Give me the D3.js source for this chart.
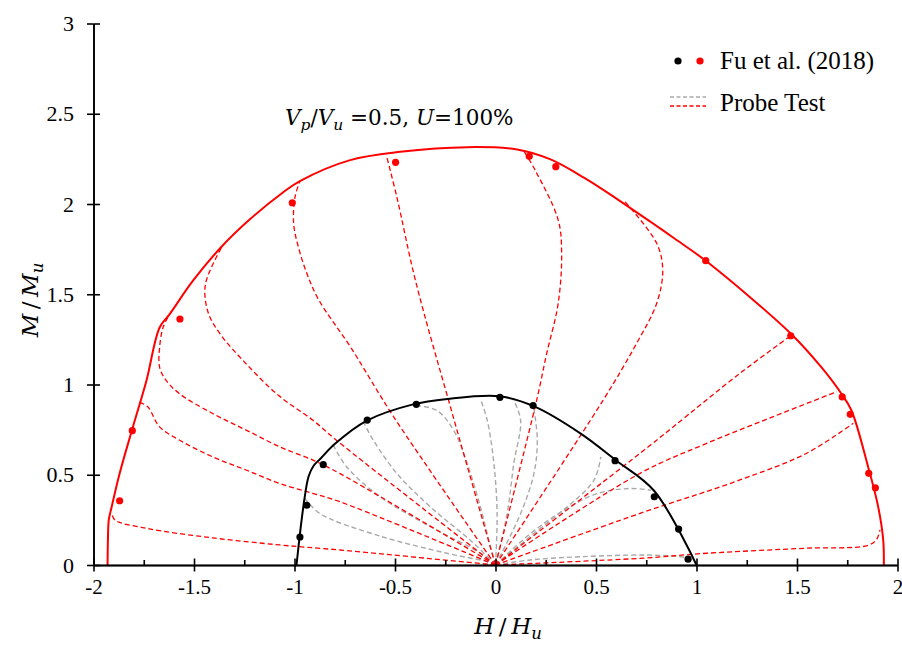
<!DOCTYPE html>
<html>
<head>
<meta charset="utf-8">
<script src="https://cdn.jsdelivr.net/npm/d3@7"></script>
<style>
  body { margin: 0; background: #fff; }
  svg { display: block; }
</style>
</head>
<body>
<svg id="chart" width="902" height="645"></svg>
<script>
// ---- axis ticks ----
const xTicks = [-2, -1.5, -1, -0.5, 0, 0.5, 1, 1.5, 2];
const xMinorTicks = [-1.75, -1.25, -0.75, -0.25, 0.25, 0.75, 1.25, 1.75];
const yTicks = [0, 0.5, 1, 1.5, 2, 2.5, 3];

// ---- failure envelopes (H/Hu, M/Mu) ----
const redEnvH = [-1.93, -1.928, -1.924, -1.91, -1.87, -1.804, -1.737, -1.671, -1.621, -1.505, -1.37, -1.222, -1.056, -0.973, -0.723, -0.474, -0.141, 0.108, 0.274, 0.44, 0.607, 0.773, 0.889, 1.051, 1.471, 1.621, 1.721, 1.771, 1.854, 1.904, 1.929, 1.932];
const redEnvM = [0, 0.15, 0.25, 0.32, 0.507, 0.765, 1.02, 1.316, 1.39, 1.575, 1.755, 1.915, 2.065, 2.127, 2.243, 2.289, 2.315, 2.302, 2.247, 2.146, 2.026, 1.90, 1.81, 1.681, 1.28, 1.096, 0.949, 0.856, 0.543, 0.322, 0.138, 0];

const blackEnvH = [-0.99, -0.97, -0.95, -0.93, -0.905, -0.87, -0.80, -0.64, -0.41, -0.24, 0.02, 0.19, 0.424, 0.599, 0.79, 1.0];
const blackEnvM = [0, 0.2, 0.37, 0.49, 0.55, 0.59, 0.67, 0.80, 0.89, 0.92, 0.935, 0.88, 0.728, 0.58, 0.41, 0];

// ---- Fu et al. (2018) test points ----
const fuRedH = [-1.870, -1.807, -1.570, -1.011, -0.497, 0.168, 0.300, 1.046, 1.469, 1.725, 1.765, 1.857, 1.890];
const fuRedM = [0.356, 0.744, 1.363, 2.007, 2.231, 2.264, 2.207, 1.686, 1.270, 0.931, 0.835, 0.508, 0.428];
const fuBlackH = [-0.973, -0.939, -0.857, -0.638, -0.394, 0.022, 0.187, 0.595, 0.790, 0.911, 0.958];
const fuBlackM = [0.155, 0.331, 0.556, 0.803, 0.890, 0.929, 0.883, 0.578, 0.378, 0.199, 0.032];

// ---- probe test paths, each from the origin outward: [H/Hu, M/Mu] ----
const redProbes = [
  [[0, 0], [-0.774, 0.083], [-1.072, 0.111], [-1.405, 0.15], [-1.735, 0.203], [-1.893, 0.249], [-1.909, 0.286]],
  [[0, 0], [-0.773, 0.35], [-0.906, 0.396], [-1.072, 0.451], [-1.238, 0.525], [-1.405, 0.598], [-1.571, 0.691], [-1.671, 0.765], [-1.729, 0.875], [-1.771, 0.902]],
  [[0, 0], [-0.773, 0.506], [-0.906, 0.58], [-1.072, 0.654], [-1.238, 0.746], [-1.405, 0.838], [-1.571, 0.948], [-1.638, 1.022], [-1.671, 1.095], [-1.671, 1.206], [-1.654, 1.316], [-1.621, 1.39]],
  [[0, 0], [-0.79, 0.69], [-0.906, 0.80], [-1.08, 0.94], [-1.245, 1.12], [-1.37, 1.28], [-1.43, 1.40], [-1.443, 1.556], [-1.36, 1.765]],
  [[0, 0], [-0.506, 0.82], [-0.721, 1.207], [-0.88, 1.47], [-0.94, 1.62], [-0.98, 1.759], [-1.004, 1.888], [-0.998, 2.035], [-0.973, 2.127]],
  [[0, 0], [-0.21, 0.82], [-0.398, 1.575], [-0.49, 2.035], [-0.541, 2.262]],
  [[0, 0], [0.205, 0.914], [0.255, 1.173], [0.312, 1.45], [0.329, 1.727], [0.312, 1.911], [0.197, 2.188], [0.138, 2.299]],
  [[0, 0], [0.536, 0.914], [0.702, 1.228], [0.802, 1.45], [0.832, 1.634], [0.802, 1.782], [0.644, 2.013]],
  [[0, 0], [0.719, 0.619], [0.885, 0.766], [1.216, 1.062], [1.469, 1.27]],
  [[0, 0], [0.719, 0.508], [1.051, 0.674], [1.382, 0.822], [1.698, 0.96]],
  [[0, 0], [0.719, 0.286], [1.216, 0.471], [1.548, 0.619], [1.78, 0.785]],
  [[0, 0], [0.719, 0.037], [1.051, 0.065], [1.548, 0.093], [1.85, 0.108], [1.895, 0.14], [1.913, 0.194]]
];

const greyProbes = [
  [[0, 0], [-0.041, 0.018], [-0.241, 0.065], [-0.574, 0.16], [-0.873, 0.285], [-0.948, 0.368]],
  [[0, 0], [-0.075, 0.065], [-0.324, 0.212], [-0.574, 0.378], [-0.74, 0.543], [-0.806, 0.663]],
  [[0, 0], [-0.108, 0.12], [-0.324, 0.322], [-0.49, 0.506], [-0.607, 0.69], [-0.657, 0.792]],
  [[0, 0], [-0.025, 0.1], [-0.075, 0.322], [-0.141, 0.562], [-0.208, 0.746], [-0.291, 0.856], [-0.391, 0.884]],
  [[0, 0], [0.008, 0.285], [-0.008, 0.562], [-0.041, 0.801], [-0.075, 0.921]],
  [[0, 0], [0.058, 0.285], [0.091, 0.562], [0.125, 0.801], [0.091, 0.912]],
  [[0, 0], [0.125, 0.285], [0.191, 0.506], [0.208, 0.69], [0.19, 0.876]],
  [[0, 0], [0.091, 0.083], [0.191, 0.175], [0.357, 0.322], [0.49, 0.47], [0.524, 0.599]],
  [[0, 0], [0.175, 0.175], [0.341, 0.304], [0.507, 0.396], [0.673, 0.424], [0.773, 0.414]],
  [[0, 0], [0.175, 0.028], [0.424, 0.046], [0.756, 0.055], [0.922, 0.046], [0.964, 0.037]]
];

// ---- layout ----
const svg = d3.select("#chart");
const x = d3.scaleLinear().domain([-2, 2]).range([93.5, 897.5]);
const y = d3.scaleLinear().domain([0, 3]).range([565, 23.5]);

const serif = "'Liberation Serif', 'Times New Roman', serif";
const mathFont = "'DejaVu Serif', serif";
const RED = "#ff0000";

const line = d3.line()
  .x(d => x(d[0]))
  .y(d => y(d[1]))
  .curve(d3.curveCatmullRom.alpha(0.5));

// probe paths
const probeG = svg.append("g").attr("fill", "none");
probeG.selectAll("path.grey")
  .data(greyProbes).join("path")
  .attr("class", "grey")
  .attr("d", line)
  .attr("stroke", "#a9a9a9")
  .attr("stroke-width", 1.4)
  .attr("stroke-dasharray", "5,3");
probeG.selectAll("path.red")
  .data(redProbes).join("path")
  .attr("class", "red")
  .attr("d", line)
  .attr("stroke", RED)
  .attr("stroke-width", 1.3)
  .attr("stroke-dasharray", "5,3");

// envelopes
const zip = (a, b) => a.map((v, i) => [v, b[i]]);
svg.append("path")
  .datum(zip(blackEnvH, blackEnvM))
  .attr("d", line)
  .attr("fill", "none")
  .attr("stroke", "#000")
  .attr("stroke-width", 2);
svg.append("path")
  .datum(zip(redEnvH, redEnvM))
  .attr("d", line)
  .attr("fill", "none")
  .attr("stroke", RED)
  .attr("stroke-width", 2);

// test points
svg.append("g").selectAll("circle")
  .data(zip(fuBlackH, fuBlackM)).join("circle")
  .attr("cx", d => x(d[0])).attr("cy", d => y(d[1]))
  .attr("r", 3.6).attr("fill", "#000");
svg.append("g").selectAll("circle")
  .data(zip(fuRedH, fuRedM)).join("circle")
  .attr("cx", d => x(d[0])).attr("cy", d => y(d[1]))
  .attr("r", 3.6).attr("fill", RED);

// ---- axes ----
const fmt = d => String(d);
function styleAxis(g) {
  g.select(".domain").attr("stroke", "#000").attr("stroke-width", 1.6);
  g.selectAll(".tick line").attr("stroke", "#000").attr("stroke-width", 1.6);
  g.selectAll(".tick text").attr("fill", "#000").attr("font-family", serif);
}

const xAxis = svg.append("g").attr("transform", `translate(0,${y(0)})`)
  .call(d3.axisBottom(x).tickValues(xTicks).tickFormat(fmt).tickSize(6.5).tickSizeOuter(0).tickPadding(8))
  .call(styleAxis);
xAxis.selectAll(".tick text").attr("font-size", 21);
svg.append("g").attr("transform", `translate(0,${y(0)})`)
  .call(d3.axisTop(x).tickValues(xTicks).tickFormat("").tickSize(6.5).tickSizeOuter(0))
  .call(styleAxis);
svg.append("g").attr("transform", `translate(0,${y(0)})`)
  .call(d3.axisTop(x).tickValues(xMinorTicks).tickFormat("").tickSize(5).tickSizeOuter(0))
  .call(styleAxis);

const yAxis = svg.append("g").attr("transform", `translate(${x(-2)},0)`)
  .call(d3.axisLeft(y).tickValues(yTicks).tickFormat(fmt).tickSize(6.5).tickSizeOuter(0).tickPadding(13))
  .call(styleAxis);
yAxis.selectAll(".tick text").attr("font-size", 22);
svg.append("g").attr("transform", `translate(${x(-2)},0)`)
  .call(d3.axisRight(y).tickValues(yTicks).tickFormat("").tickSize(6.5).tickSizeOuter(0))
  .call(styleAxis);

// ---- math-style text: italic variables, lowered subscripts ----
function mathText(sel, parts, size) {
  let lowered = 0;
  parts.forEach(p => {
    const t = sel.append("tspan").text(p.t)
      .attr("font-style", p.i ? "italic" : "normal");
    let dy = -lowered;
    lowered = 0;
    if (p.sub) {
      t.attr("font-size", size * 0.72);
      lowered = size * 0.22;
      dy += lowered;
    }
    if (dy !== 0) t.attr("dy", dy);
  });
}

const title = svg.append("text")
  .attr("x", 285).attr("y", 125)
  .attr("font-family", mathFont).attr("font-size", 21.5).attr("fill", "#000");
mathText(title, [
  { t: "V", i: true }, { t: "p", i: true, sub: true }, { t: "/" },
  { t: "V", i: true }, { t: "u", i: true, sub: true }, { t: " =0.5, " },
  { t: "U", i: true }, { t: "=100%" }
], 21.5);

const xLabel = svg.append("text")
  .attr("x", 508).attr("y", 634).attr("text-anchor", "middle")
  .attr("font-family", mathFont).attr("font-size", 23).attr("fill", "#000");
mathText(xLabel, [{ t: "H", i: true }, { t: "\u2009/\u2009" }, { t: "H", i: true }, { t: "u", i: true, sub: true }], 23);

const yLabel = svg.append("text")
  .attr("transform", "translate(38,300) rotate(-90)").attr("text-anchor", "middle")
  .attr("font-family", mathFont).attr("font-size", 23).attr("fill", "#000");
mathText(yLabel, [{ t: "M", i: true }, { t: "\u2009/\u2009" }, { t: "M", i: true }, { t: "u", i: true, sub: true }], 23);

// ---- legend ----
const legend = svg.append("g");
legend.append("circle").attr("cx", 678).attr("cy", 61).attr("r", 3.6).attr("fill", "#000");
legend.append("circle").attr("cx", 700).attr("cy", 61).attr("r", 3.6).attr("fill", RED);
legend.append("text").attr("x", 720).attr("y", 69)
  .attr("font-family", serif).attr("font-size", 25).attr("fill", "#000")
  .text("Fu et al. (2018)");
legend.append("line").attr("x1", 670).attr("x2", 706).attr("y1", 97).attr("y2", 97)
  .attr("stroke", "#a9a9a9").attr("stroke-width", 1.3).attr("stroke-dasharray", "4,2.5");
legend.append("line").attr("x1", 670).attr("x2", 706).attr("y1", 106).attr("y2", 106)
  .attr("stroke", RED).attr("stroke-width", 1.3).attr("stroke-dasharray", "4,2.5");
legend.append("text").attr("x", 720).attr("y", 111)
  .attr("font-family", serif).attr("font-size", 25).attr("fill", "#000")
  .text("Probe Test");
</script>
</body>
</html>
